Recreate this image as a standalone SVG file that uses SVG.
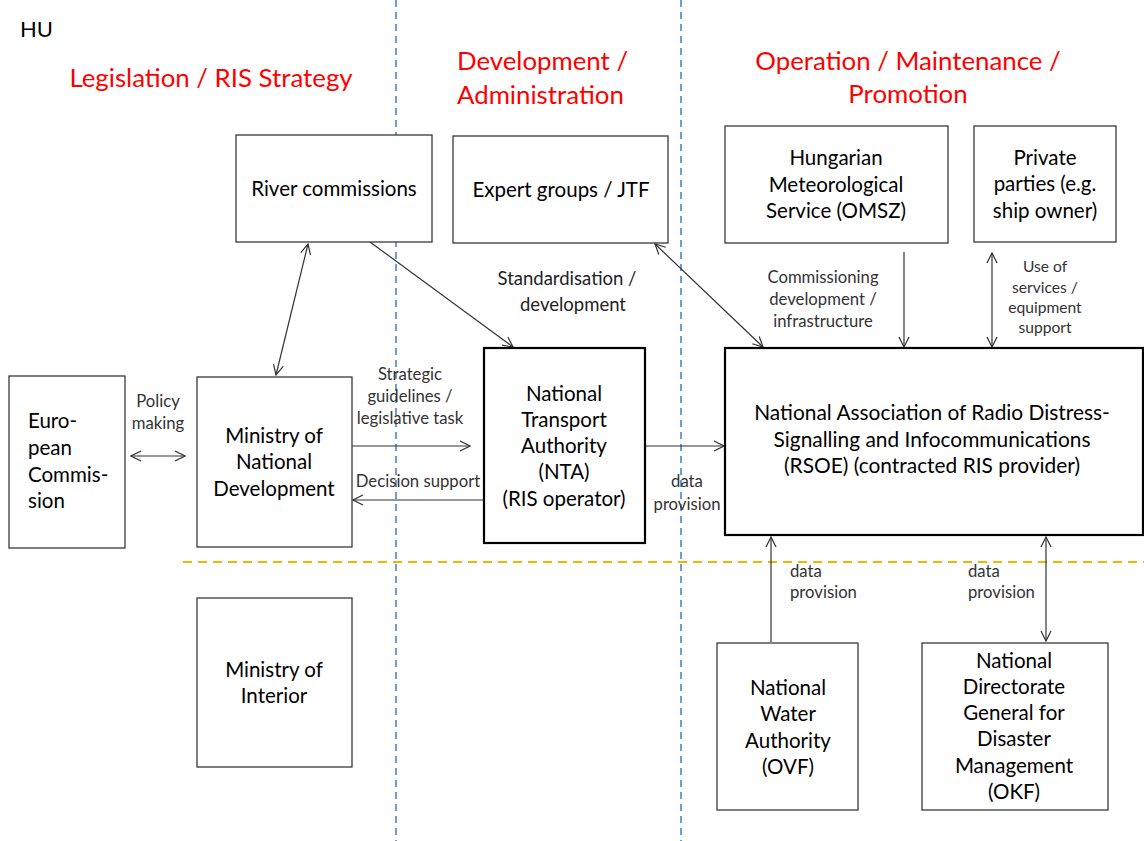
<svg xmlns="http://www.w3.org/2000/svg" width="1144" height="841" viewBox="0 0 1144 841">
<style>
.box{fill:#fff;stroke:#3a3a3a;stroke-width:1.3}
.thick{fill:#fff;stroke:#000;stroke-width:2.2}
.t{font-family:Lato,"Open Sans","Liberation Sans",sans-serif;font-size:20.5px;fill:#000;text-anchor:middle}
.l{font-family:Lato,"Open Sans","Liberation Sans",sans-serif;font-size:16.7px;fill:#333;text-anchor:middle}
.s{font-family:Lato,"Open Sans","Liberation Sans",sans-serif;font-size:15.6px;fill:#333;text-anchor:middle}
.h{font-family:Lato,"Open Sans","Liberation Sans",sans-serif;font-size:25.8px;fill:#ff0000}
.c{fill:none;stroke:#333;stroke-width:1.2}
</style>
<defs>
<marker id="a" viewBox="0 0 12 12" refX="11" refY="6" markerWidth="12" markerHeight="12" markerUnits="userSpaceOnUse" orient="auto-start-reverse">
<path d="M1,1 L11,6 L1,11" fill="none" stroke="#333" stroke-width="1.2"/>
</marker>
</defs>
<rect width="1144" height="841" fill="#fff"/>
<g id="guides">
<line x1="396" y1="0" x2="396" y2="841" stroke="#4a86c8" stroke-width="1.6" stroke-dasharray="7,5"/>
<line x1="681" y1="0" x2="681" y2="841" stroke="#4a86c8" stroke-width="1.6" stroke-dasharray="7,5"/>
<line x1="183" y1="562" x2="1144" y2="562" stroke="#f5b400" stroke-width="1.8" stroke-dasharray="9,6"/>
</g>
<g id="headings">
<text x="20" y="37" font-family="Lato,'Open Sans','Liberation Sans',sans-serif" font-size="22" fill="#000">HU</text>
<text class="h" x="211" y="87" text-anchor="middle">Legislation / RIS Strategy</text>
<text class="h" x="457" y="70">Development /</text>
<text class="h" x="457" y="104">Administration</text>
<text class="h" x="908" y="70" text-anchor="middle">Operation / Maintenance /</text>
<text class="h" x="908" y="103" text-anchor="middle">Promotion</text>
</g>
<g id="connectors">
<line class="c" x1="131" y1="456" x2="185" y2="456" marker-start="url(#a)" marker-end="url(#a)"/>
<line class="c" x1="352" y1="446" x2="470" y2="446" marker-end="url(#a)"/>
<line class="c" x1="484" y1="500" x2="353" y2="500" marker-end="url(#a)"/>
<line class="c" x1="308" y1="244" x2="276" y2="375" marker-start="url(#a)" marker-end="url(#a)"/>
<line class="c" x1="370" y1="242" x2="513" y2="347" marker-end="url(#a)"/>
<line class="c" x1="655" y1="244" x2="763" y2="347" marker-start="url(#a)" marker-end="url(#a)"/>
<line class="c" x1="645" y1="446" x2="724" y2="446" marker-end="url(#a)"/>
<line class="c" x1="904" y1="252" x2="904" y2="347" marker-end="url(#a)"/>
<line class="c" x1="992" y1="253" x2="992" y2="347" marker-start="url(#a)" marker-end="url(#a)"/>
<line class="c" x1="771" y1="642" x2="771" y2="537" marker-end="url(#a)"/>
<line class="c" x1="1046" y1="537" x2="1046" y2="641" marker-start="url(#a)" marker-end="url(#a)"/>
<text class="l" x="158" y="407">Policy</text>
<text class="l" x="158" y="429">making</text>
<text class="l" x="410" y="380">Strategic</text>
<text class="l" x="410" y="402">guidelines /</text>
<text class="l" x="410" y="424">legislative  task</text>
<text class="l" x="418" y="487">Decision support</text>
<text class="t" x="567" y="285" style="font-size:18.5px;fill:#222">Standardisation /</text>
<text class="t" x="573" y="311" style="font-size:18.5px;fill:#222">development</text>
<text class="l" x="687" y="487">data</text>
<text class="l" x="687" y="510">provision</text>
<text class="l" x="823" y="283">Commissioning</text>
<text class="l" x="823" y="305">development /</text>
<text class="l" x="823" y="327">infrastructure</text>
<text class="s" x="1045" y="272">Use of</text>
<text class="s" x="1045" y="293">services /</text>
<text class="s" x="1045" y="313">equipment</text>
<text class="s" x="1045" y="333">support</text>
<text class="l" x="790" y="577" style="text-anchor:start">data</text>
<text class="l" x="790" y="598" style="text-anchor:start">provision</text>
<text class="l" x="968" y="577" style="text-anchor:start">data</text>
<text class="l" x="968" y="598" style="text-anchor:start">provision</text>
</g>
<g id="ec">
<rect class="box" x="9" y="376" width="116" height="172"/>
<text class="t" x="28" y="428" style="text-anchor:start">Euro-</text>
<text class="t" x="28" y="455" style="text-anchor:start">pean</text>
<text class="t" x="28" y="482" style="text-anchor:start">Commis-</text>
<text class="t" x="28" y="508" style="text-anchor:start">sion</text>
</g>
<g id="mnd">
<rect class="box" x="197" y="377" width="155" height="170"/>
<text class="t" x="274" y="443">Ministry of</text>
<text class="t" x="274" y="469">National</text>
<text class="t" x="274" y="496">Development</text>
</g>
<g id="river">
<rect class="box" x="236" y="135" width="196" height="107"/>
<text class="t" x="334" y="196">River commissions</text>
</g>
<g id="expert">
<rect class="box" x="453" y="136" width="215" height="107"/>
<text class="t" x="561" y="197">Expert groups / JTF</text>
</g>
<g id="omsz">
<rect class="box" x="725" y="126" width="223" height="117"/>
<text class="t" x="836" y="165">Hungarian</text>
<text class="t" x="836" y="192">Meteorological</text>
<text class="t" x="836" y="218">Service (OMSZ)</text>
</g>
<g id="private">
<rect class="box" x="974" y="126" width="142" height="116"/>
<text class="t" x="1045" y="165">Private</text>
<text class="t" x="1045" y="191">parties (e.g.</text>
<text class="t" x="1045" y="218">ship owner)</text>
</g>
<g id="nta">
<rect class="thick" x="484" y="348" width="161" height="195"/>
<text class="t" x="564" y="401">National</text>
<text class="t" x="564" y="427">Transport</text>
<text class="t" x="564" y="453">Authority</text>
<text class="t" x="564" y="479">(NTA)</text>
<text class="t" x="564" y="506">(RIS operator)</text>
</g>
<g id="rsoe">
<rect class="thick" x="725" y="348" width="418" height="187"/>
<text class="t" x="932" y="420" style="font-size:20.9px">National Association of Radio Distress-</text>
<text class="t" x="932" y="447" style="font-size:20.9px">Signalling and Infocommunications</text>
<text class="t" x="932" y="473" style="font-size:20.9px">(RSOE) (contracted RIS provider)</text>
</g>
<g id="interior">
<rect class="box" x="197" y="598" width="155" height="169"/>
<text class="t" x="274" y="677">Ministry of</text>
<text class="t" x="274" y="703">Interior</text>
</g>
<g id="ovf">
<rect class="box" x="717" y="643" width="141" height="167"/>
<text class="t" x="788" y="695">National</text>
<text class="t" x="788" y="721">Water</text>
<text class="t" x="788" y="748">Authority</text>
<text class="t" x="788" y="774">(OVF)</text>
</g>
<g id="okf">
<rect class="box" x="922" y="643" width="186" height="167"/>
<text class="t" x="1014" y="668">National</text>
<text class="t" x="1014" y="694">Directorate</text>
<text class="t" x="1014" y="720">General for</text>
<text class="t" x="1014" y="746">Disaster</text>
<text class="t" x="1014" y="773">Management</text>
<text class="t" x="1014" y="799">(OKF)</text>
</g>
</svg>
